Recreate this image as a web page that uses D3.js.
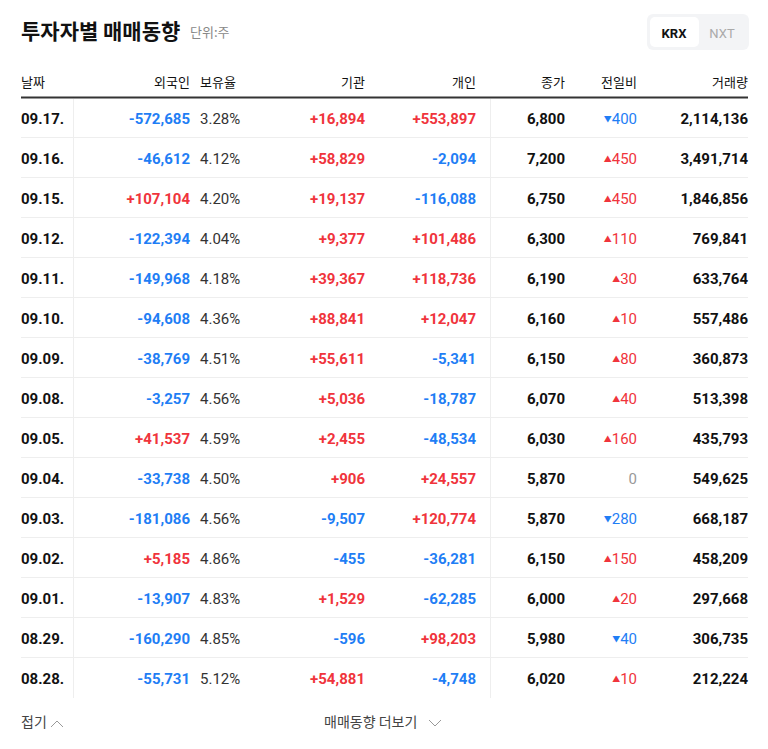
<!DOCTYPE html>
<html><head><meta charset="utf-8">
<script src="https://cdn.jsdelivr.net/npm/d3@7"></script>
<style>
body{margin:0;background:#fff;}
text{font-family:Roboto,"Noto Sans CJK KR",sans-serif;}
.kr{font-family:"Noto Sans CJK KR",sans-serif;}
</style></head>
<body><svg id="c" width="768" height="749"></svg>
<script>
const dates = ["09.17.","09.16.","09.15.","09.12.","09.11.","09.10.","09.09.","09.08.","09.05.","09.04.","09.03.","09.02.","09.01.","08.29.","08.28."];
const foreign = [-572685,-46612,107104,-122394,-149968,-94608,-38769,-3257,41537,-33738,-181086,5185,-13907,-160290,-55731];
const holding = [3.28,4.12,4.20,4.04,4.18,4.36,4.51,4.56,4.59,4.50,4.56,4.86,4.83,4.85,5.12];
const inst = [16894,58829,19137,9377,39367,88841,55611,5036,2455,906,-9507,-455,1529,-596,54881];
const indiv = [553897,-2094,-116088,101486,118736,12047,-5341,-18787,-48534,24557,120774,-36281,-62285,98203,-4748];
const close = [6800,7200,6750,6300,6190,6160,6150,6070,6030,5870,5870,6150,6000,5980,6020];
const change = [-400,450,450,110,30,10,80,40,160,0,-280,150,20,-40,10];
const volume = [2114136,3491714,1846856,769841,633764,557486,360873,513398,435793,549625,668187,458209,297668,306735,212224];
const headers = ["날짜","외국인","보유율","기관","개인","종가","전일비","거래량"];

const RED="#f0343c", BLUE="#1f7ef5", DARK="#111";
const svg = d3.select("#c");
const fmt = d3.format(",");
const sgn = v => v>0 ? "+"+fmt(v) : v<0 ? "-"+fmt(-v) : fmt(v);
const col = v => v>0 ? RED : v<0 ? BLUE : "#999";

const y = d3.scaleBand().domain(d3.range(dates.length)).range([98,698]);
const L=21, R=748;

// title
svg.append("text").attr("class","kr").attr("x",21).attr("y",39).attr("font-size",21).attr("font-weight",700).attr("fill",DARK).text("투자자별 매매동향");
svg.append("text").attr("class","kr").attr("x",190).attr("y",37).attr("font-size",13).attr("fill","#888").text("단위:주");
// toggle
svg.append("rect").attr("x",647).attr("y",14).attr("width",102).attr("height",36).attr("rx",6).attr("fill","#f3f4f6");
svg.append("rect").attr("x",650).attr("y",17).attr("width",49).attr("height",30).attr("rx",5).attr("fill","#fff");
svg.append("text").attr("x",674).attr("y",38).attr("text-anchor","middle").attr("font-size",13).attr("font-weight",700).attr("fill",DARK).text("KRX");
svg.append("text").attr("x",722).attr("y",38).attr("text-anchor","middle").attr("font-size",13).attr("fill","#aaa").text("NXT");

// header
const hx = [[21,"start"],[190,"end"],[200,"start"],[365,"end"],[476,"end"],[565,"end"],[637,"end"],[748,"end"]];
headers.forEach((h,i)=>svg.append("text").attr("class","kr").attr("x",hx[i][0]).attr("y",87).attr("text-anchor",hx[i][1]).attr("font-size",13).attr("fill",DARK).text(h));
svg.append("line").attr("x1",L).attr("x2",R).attr("y1",97.5).attr("y2",97.5).attr("stroke","#333").attr("stroke-width",2);

// separators
[73.5,490.5].forEach(x=>svg.append("line").attr("x1",x).attr("x2",x).attr("y1",99).attr("y2",698).attr("stroke","#eee"));

const rows = svg.selectAll("g.row").data(dates).join("g").attr("transform",(d,i)=>`translate(0,${y(i)})`);
rows.filter((d,i)=>i<dates.length-1).append("line").attr("x1",L).attr("x2",R).attr("y1",y.bandwidth()-0.5).attr("y2",y.bandwidth()-0.5).attr("stroke","#eee");
const ty = y.bandwidth()/2+5.5;
rows.append("text").attr("x",21).attr("y",ty).attr("font-size",15).attr("font-weight",700).attr("fill",DARK).text(d=>d);
rows.append("text").attr("x",190).attr("y",ty).attr("text-anchor","end").attr("font-size",15).attr("font-weight",700).attr("fill",(d,i)=>col(foreign[i])).text((d,i)=>sgn(foreign[i]));
rows.append("text").attr("x",200).attr("y",ty).attr("font-size",15).attr("fill","#333").text((d,i)=>holding[i].toFixed(2)+"%");
rows.append("text").attr("x",365).attr("y",ty).attr("text-anchor","end").attr("font-size",15).attr("font-weight",700).attr("fill",(d,i)=>col(inst[i])).text((d,i)=>sgn(inst[i]));
rows.append("text").attr("x",476).attr("y",ty).attr("text-anchor","end").attr("font-size",15).attr("font-weight",700).attr("fill",(d,i)=>col(indiv[i])).text((d,i)=>sgn(indiv[i]));
rows.append("text").attr("x",565).attr("y",ty).attr("text-anchor","end").attr("font-size",15).attr("font-weight",700).attr("fill",DARK).text((d,i)=>fmt(close[i]));
rows.append("text").attr("x",637).attr("y",ty).attr("text-anchor","end").attr("font-size",15).attr("fill",(d,i)=>col(change[i]))
  .each(function(d,i){
    const t=d3.select(this), v=change[i];
    if(v!==0) t.append("tspan").attr("font-size",8).attr("dy",-2).text(v>0?"▲":"▼");
    t.append("tspan").attr("dy",v!==0?2:0).text(fmt(Math.abs(v)));
  });
rows.append("text").attr("x",748).attr("y",ty).attr("text-anchor","end").attr("font-size",15).attr("font-weight",700).attr("fill",DARK).text((d,i)=>fmt(volume[i]));

// footer
svg.append("text").attr("class","kr").attr("x",21).attr("y",727).attr("font-size",14).attr("fill","#444").text("접기");
svg.append("path").attr("d","M51,727 L57,721 L63,727").attr("fill","none").attr("stroke","#999");
svg.append("text").attr("class","kr").attr("x",324).attr("y",727).attr("font-size",14).attr("fill","#444").text("매매동향 더보기");
svg.append("path").attr("d","M429,720 L435,726 L441,720").attr("fill","none").attr("stroke","#999");
</script></body></html>
